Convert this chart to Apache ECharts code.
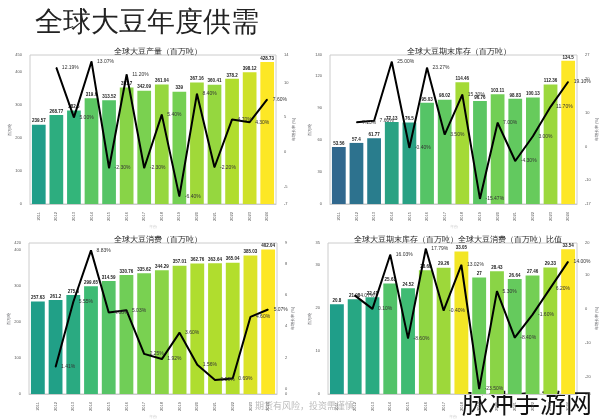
<!DOCTYPE html><html><head><meta charset="utf-8"><script src="https://cdn.jsdelivr.net/npm/echarts@6/dist/echarts.min.js"></script></head><body style="margin:0"><div id="c" style="width:600px;height:420px"></div><script>
const years=['2011','2012','2013','2014','2015','2016','2017','2018','2019','2020','2021','2022','2023','2024'];
const production=[239.57,268.77,282.6,319.6,313.52,351.7,342.09,361.04,339.0,367.16,360.41,378.2,398.12,428.73];
const productionGrowth=[null,12.19,5.0,13.07,-2.3,11.2,-2.3,5.4,-6.4,8.4,-2.2,4.7,4.3,7.6];
const stocks=[53.56,57.4,61.77,77.13,76.5,95.03,98.02,114.46,96.76,103.11,98.83,100.13,112.36,134.5];
const stocksGrowth=[null,7.13,7.6,25.0,-0.4,23.27,3.5,15.3,-15.47,7.0,-4.3,3.0,11.7,19.1];
const consumption=[257.63,261.2,275.6,299.65,314.59,330.76,335.62,344.29,357.01,362.76,363.64,365.04,385.03,402.04];
const consumptionGrowth=[null,1.41,5.55,8.83,4.88,5.03,2.25,1.92,3.6,1.56,0.59,0.69,4.6,5.07];
const ratio=[20.8,21.98,22.41,25.63,24.52,28.69,29.26,33.05,27.0,28.43,26.64,27.46,29.33,33.54];
const ratioGrowth=[null,4.07,0.1,16.03,-8.6,17.79,-0.4,13.02,-23.5,5.3,-8.4,-1.6,6.2,14.0];
const panels=[
 {title:'全球大豆产量（百万吨）',bars:production,line:productionGrowth,x:30,y:55,w:246,h:149,ymax:450,rmin:-7.5,rmax:14,colors:['#1f9e89','#35b779','#6ece58','#b5de2b','#fde725']},
 {title:'全球大豆期末库存（百万吨）',bars:stocks,line:stocksGrowth,x:330,y:55,w:247,h:149,ymax:140,rmin:-17,rmax:27,colors:['#31688e','#21918c','#35b779','#6ece58','#b5de2b','#fde725']},
 {title:'全球大豆消费（百万吨）',bars:consumption,line:consumptionGrowth,x:29,y:243,w:248,h:151,ymax:420,rmin:-0.3,rmax:9.3,colors:['#1f9e89','#35b779','#6ece58','#b5de2b','#fde725']},
 {title:'全球大豆期末库存（百万吨）全球大豆消费（百万吨）比值',bars:ratio,line:ratioGrowth,x:328,y:243,w:249,h:151,ymax:35,rmin:-25,rmax:19.5,colors:['#1f9e89','#35b779','#6ece58','#b5de2b','#fde725']}
];
const grid=[],xAxis=[],yAxis=[],series=[],title=[{text:'全球大豆年度供需',left:30,top:4,textStyle:{fontSize:28,fontWeight:'normal',color:'#222'}}],visualMap=[];
const ax={fontSize:4,color:'#555'};
panels.forEach((p,i)=>{
 grid.push({left:p.x,top:p.y,width:p.w,height:p.h,show:true,borderColor:'#ccc',backgroundColor:'#fff'});
 title.push({text:p.title,left:p.x+p.w/2,top:p.y-12,textAlign:'center',textStyle:{fontSize:8,fontWeight:'normal',color:'#222'}});
 xAxis.push({type:'category',data:years,gridIndex:i,axisLabel:{...ax,rotate:90},axisTick:{show:false},axisLine:{lineStyle:{color:'#ccc'}},name:'年份',nameLocation:'middle',nameGap:12,nameTextStyle:{fontSize:4}});
 yAxis.push({type:'value',gridIndex:i,min:0,max:p.ymax,axisLabel:ax,splitLine:{show:false},axisLine:{show:false},name:'百万吨',nameLocation:'middle',nameGap:14,nameTextStyle:{fontSize:4}});
 yAxis.push({type:'value',gridIndex:i,position:'right',min:p.rmin,max:p.rmax,axisLabel:{...ax,formatter:v=>Math.round(v)},splitLine:{show:false},axisLine:{show:false},name:'年增长率 (%)',nameLocation:'middle',nameGap:14,nameTextStyle:{fontSize:4}});
 series.push({type:'bar',xAxisIndex:i,yAxisIndex:2*i,data:p.bars,barCategoryGap:'22%',label:{show:true,position:'top',distance:1,fontSize:4.5,fontWeight:'bold',color:'#222'}});
 series.push({type:'line',xAxisIndex:i,yAxisIndex:2*i+1,data:p.line,symbol:'circle',symbolSize:1,showSymbol:true,z:5,lineStyle:{color:'#000',width:2},itemStyle:{color:'#000'},label:{show:true,fontSize:5,color:'#333',position:'right',formatter:d=>d.value==null?'':d.value.toFixed(2)+'%'}});
 visualMap.push({show:false,seriesIndex:2*i,min:Math.min(...p.bars),max:Math.max(...p.bars),inRange:{color:p.colors}});
});
const chart=echarts.init(document.getElementById('c'));
chart.setOption({animation:false,backgroundColor:'#fff',title,grid,xAxis,yAxis,series,visualMap,
 graphic:[{type:'text',right:8,bottom:4,style:{text:'脉冲手游网',fontSize:26,fill:'#111',fontFamily:'Noto Sans CJK SC'}},
 {type:'text',left:255,bottom:10,style:{text:'期货有风险，投资需谨慎',fontSize:9,fill:'#bbb',fontFamily:'Noto Sans CJK SC'}}]});
</script></body></html>
